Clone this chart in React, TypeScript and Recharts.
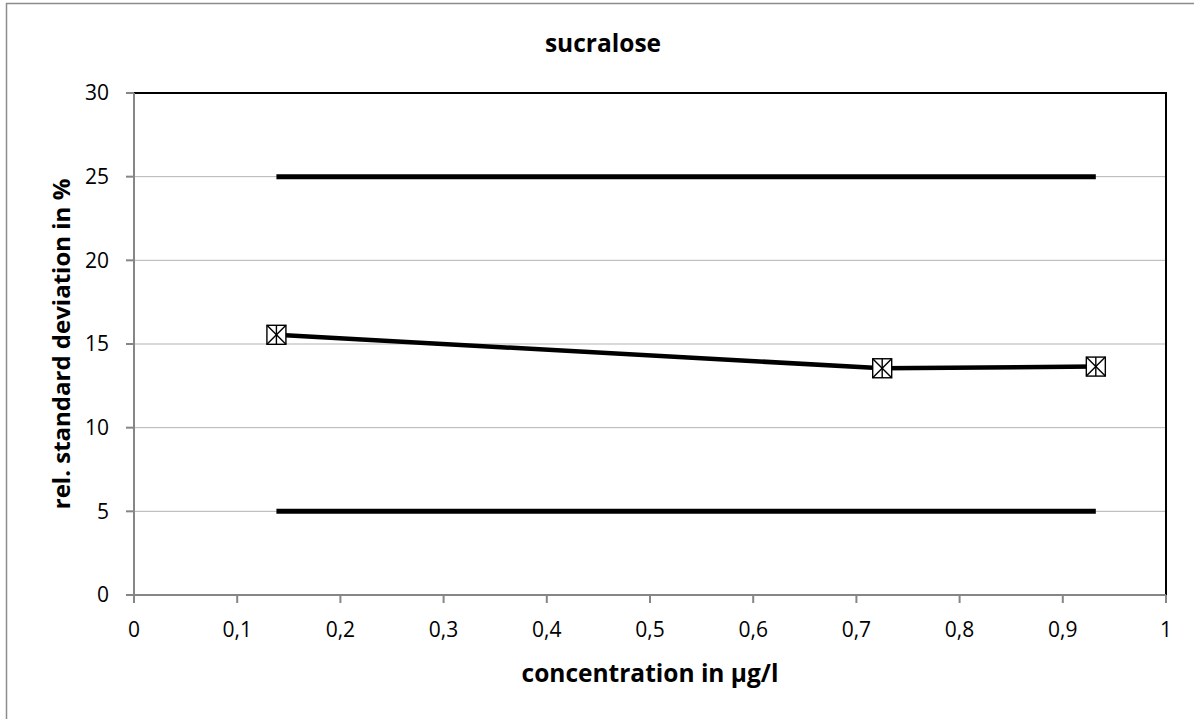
import {
  ComposedChart,
  Scatter,
  XAxis,
  YAxis,
  CartesianGrid,
  ReferenceArea,
  Label,
} from "recharts";

// measured points (concentration in µg/l, rel. standard deviation in %)
const concentrations = [0.138, 0.725, 0.932];
const rsdValues = [15.55, 13.55, 13.65];

// acceptance limits, drawn over the measured range
const limitRange = [0.138, 0.932];
const upperLimit = 25;
const lowerLimit = 5;

const xTicks = [0, 0.1, 0.2, 0.3, 0.4, 0.5, 0.6, 0.7, 0.8, 0.9, 1];
const yTicks = [0, 5, 10, 15, 20, 25, 30];

const measured = concentrations.map((x, i) => ({ x, y: rsdValues[i] }));
const upper = limitRange.map((x) => ({ x, y: upperLimit }));
const lower = limitRange.map((x) => ({ x, y: lowerLimit }));

const FONT = "'Open Sans', sans-serif";
const AXIS = "#868686";

const fmt = (v: number) => String(v).replace(".", ",");

function Marker(props: any) {
  const { cx, cy } = props;
  const h = 9.5;
  return (
    <g stroke="#000" strokeWidth={1.4} fill="none">
      <rect x={cx - h} y={cy - h} width={h * 2} height={h * 2} fill="#fff" />
      <line x1={cx - h} y1={cy - h} x2={cx + h} y2={cy + h} />
      <line x1={cx - h} y1={cy + h} x2={cx + h} y2={cy - h} />
      <line x1={cx} y1={cy - h} x2={cx} y2={cy + h} />
    </g>
  );
}

const NoShape = () => <g />;

export default function App() {
  return (
    <div style={{ position: "absolute", left: 0, top: 0, width: 1194, height: 719, background: "#fff" }}>
      <svg width={1194} height={719} style={{ position: "absolute", left: 0, top: 0 }}>
        <rect x={6.5} y={3.5} width={1200} height={730} fill="none" stroke="#8c8c8c" strokeWidth={1.5} />
        <text
          x={603}
          y={52}
          textAnchor="middle"
          fontFamily={FONT}
          fontWeight="bold"
          fontSize={24.5}
          fill="#000"
        >
          sucralose
        </text>
      </svg>
      <div style={{ position: "absolute", left: 0, top: 0 }}>
        <ComposedChart
          width={1194}
          height={719}
          margin={{ top: 93, right: 28, left: 0, bottom: 0 }}
        >
          <CartesianGrid vertical={false} stroke="#b3b3b3" strokeWidth={1} />
          <ReferenceArea
            x1={0}
            x2={1}
            y1={0}
            y2={30}
            fill="none"
            stroke="#000"
            strokeWidth={2}
          />
          <XAxis
            type="number"
            dataKey="x"
            domain={[0, 1]}
            ticks={xTicks}
            tickFormatter={fmt}
            height={124}
            stroke={AXIS}
            strokeWidth={2}
            tickSize={8}
            tickMargin={19}
            tick={{ fill: "#000", fontSize: 21, fontFamily: FONT }}
            allowDataOverflow
          >
            <Label
              value="concentration in µg/l"
              position="insideTop"
              offset={70}
              style={{ fontFamily: FONT, fontWeight: "bold", fontSize: 24.5, fill: "#000" }}
            />
          </XAxis>
          <YAxis
            type="number"
            dataKey="y"
            domain={[0, 30]}
            ticks={yTicks}
            width={134}
            stroke={AXIS}
            strokeWidth={2}
            tickSize={8}
            tickMargin={17}
            tick={{ fill: "#000", fontSize: 21, fontFamily: FONT }}
            allowDataOverflow
          >
            <Label
              value="rel. standard deviation in %"
              angle={-90}
              position="insideLeft"
              offset={61}
              style={{
                fontFamily: FONT,
                fontWeight: "bold",
                fontSize: 24,
                fill: "#000",
                textAnchor: "middle",
              }}
            />
          </YAxis>
          <Scatter
            data={upper}
            line={{ stroke: "#000", strokeWidth: 5 }}
            shape={NoShape}
            isAnimationActive={false}
          />
          <Scatter
            data={lower}
            line={{ stroke: "#000", strokeWidth: 5 }}
            shape={NoShape}
            isAnimationActive={false}
          />
          <Scatter
            data={measured}
            line={{ stroke: "#000", strokeWidth: 4.5 }}
            shape={Marker}
            isAnimationActive={false}
          />
        </ComposedChart>
      </div>
    </div>
  );
}
